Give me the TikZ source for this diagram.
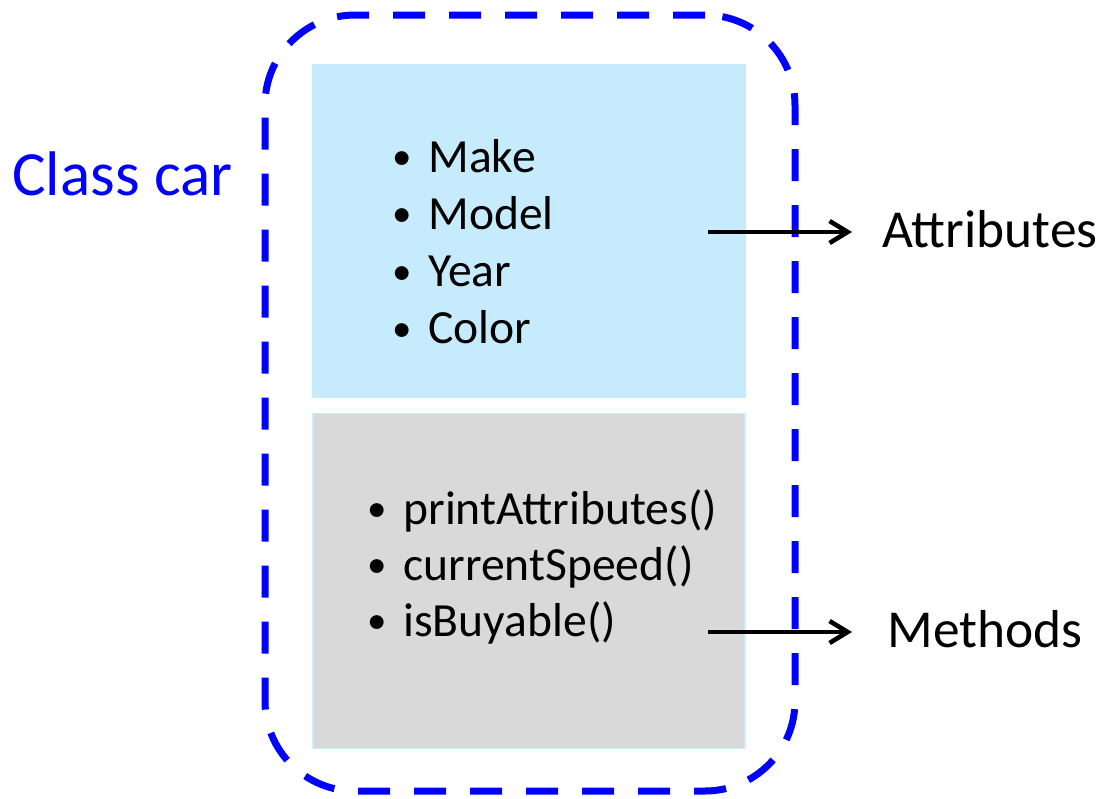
\documentclass[tikz,border=0pt]{standalone}
\usepackage{fontspec}
\setmainfont{Carlito}
\usepackage{xcolor}
\usepackage{tikz}
\usetikzlibrary{arrows.meta}

\definecolor{attrblue}{RGB}{197,235,253}
\definecolor{methgray}{RGB}{217,217,217}
\definecolor{methedge}{RGB}{204,236,255}

\newcommand{\bul}{\makebox[18pt][l]{\raisebox{1.2pt}{\fontsize{19.5}{19.5}\selectfont\textbullet}}}

\begin{document}
\begin{tikzpicture}[
        x=0.5pt, y=-0.5pt,
        classframe/.style={rectangle, draw=blue, line width=3.5pt, dash pattern=on 16pt off 12pt,
            rounded corners=45pt, minimum width=265pt, minimum height=388pt},
        attrbox/.style={rectangle, fill=attrblue, minimum width=217pt, minimum height=167pt},
        methbox/.style={rectangle, fill=methgray, draw=methedge, line width=0.8pt, minimum width=216pt, minimum height=167.5pt},
        item/.style={anchor=base west, inner sep=0pt, font=\fontsize{23.8}{28}\selectfont},
        label/.style={anchor=base west, inner sep=0pt},
        arrow/.style={-{Straight Barb[length=9pt,width=11pt]}, line width=2.3pt}
    ]
        \useasboundingbox (0,0) rectangle (1100,799);

        \node[classframe] (car) at (530,403) {};
        \node[attrbox] (attrs) at (529,231) {};
        \node[methbox] (meths) at (529,581) {};

        \node[label, text=blue, font=\fontsize{31.5}{36}\selectfont] (classname) at (12,195) {Class car};

        % attribute and method lists
        \foreach \txt [count=\i] in {Make,Model,Year,Color}
            \node[item] (attr\i) at (392,{172+57.3*(\i-1)}) {\bul\txt};
        \foreach \txt [count=\i] in {printAttributes(),currentSpeed(),isBuyable()}
            \node[item] (meth\i) at (367,{524+56*(\i-1)}) {\bul\txt};

        \node[label, font=\fontsize{26.7}{31}\selectfont] (attrlabel) at (882,247) {Attributes};
        \node[label, font=\fontsize{26.7}{31}\selectfont] (methlabel) at (887,647) {Methods};

        \coordinate (attrstart) at (708,232);
        \coordinate (methstart) at (708,632);
        \draw[arrow, shorten >=15pt] (attrstart) -- (attrstart -| attrlabel.west);
        \draw[arrow, shorten >=17.5pt] (methstart) -- (methstart -| methlabel.west);
    \end{tikzpicture}
\end{document}
